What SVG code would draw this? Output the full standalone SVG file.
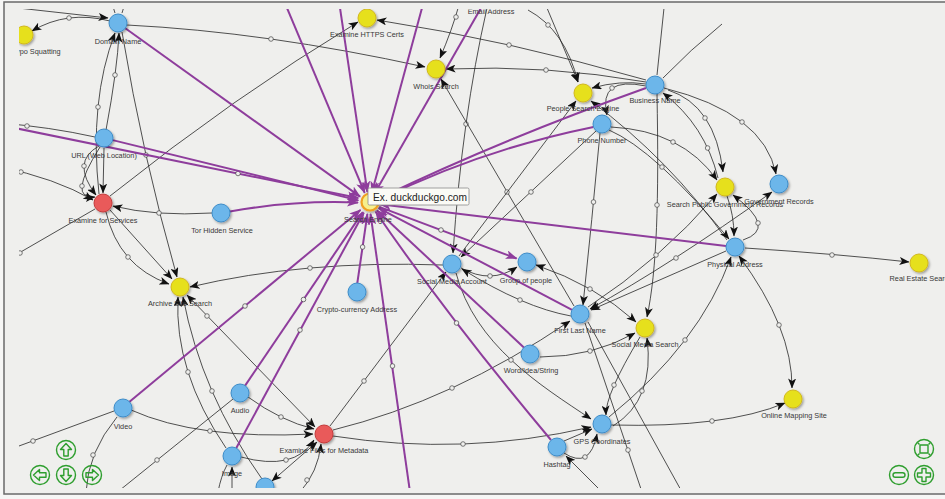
<svg xmlns="http://www.w3.org/2000/svg" xmlns:xlink="http://www.w3.org/1999/xlink" width="945" height="499" viewBox="0 0 945 499">
<defs>
<style>
.e{fill:none;stroke:#262626;stroke-width:0.8}
.p{fill:none;stroke:#8e3d9c;stroke-width:2}
.m{fill:#efefed;stroke:#444;stroke-width:0.7}
.nb{fill:#6cb6ea;stroke:#3d8cc8;stroke-width:1}
.ny{fill:#e6e01e;stroke:#d2b81c;stroke-width:1}
.nr{fill:#e95a5a;stroke:#c43c3c;stroke-width:1}
.l{font-family:"Liberation Sans",Arial,sans-serif;font-size:7.3px;fill:#383838;text-anchor:middle}
.g{fill:none;stroke:#2e9e2e;stroke-width:1.4;stroke-linejoin:round}
</style>
<marker id="ab" markerUnits="userSpaceOnUse" markerWidth="10" markerHeight="8" refX="9.5" refY="4" orient="auto-start-reverse"><path d="M0,0 L10,4 L0,8 L2.5,4 Z" fill="#111"/></marker>
<marker id="ap" markerUnits="userSpaceOnUse" markerWidth="12" markerHeight="9" refX="11" refY="4.5" orient="auto"><path d="M0,0 L12,4.5 L0,9 L3,4.5 Z" fill="#8e3d9c"/></marker>
<filter id="sh" x="-50%" y="-50%" width="200%" height="200%"><feDropShadow dx="1.3" dy="1.5" stdDeviation="0.9" flood-color="#000" flood-opacity="0.35"/></filter>
<clipPath id="cv"><rect x="19" y="9" width="930" height="479"/></clipPath>
<clipPath id="ct"><rect x="19" y="9.5" width="930" height="20"/></clipPath>
<path id="arr" d="M0,-6.5 L5.5,-0.5 L2.2,-0.5 L2.2,6 L-2.2,6 L-2.2,-0.5 L-5.5,-0.5 Z"/>
</defs>
<rect x="0" y="0" width="945" height="499" fill="#f6f6f5"/>
<rect x="4" y="2" width="960" height="492" fill="#efefed" stroke="#6a6a6a" stroke-width="1.5"/>
<g clip-path="url(#cv)">
<g id="connectors">
<path class="e" d="M0,6 L108,18" marker-end="url(#ab)"/>
<path class="e" d="M111,0 L115,13"/>
<path class="e" d="M126,0 L122,13"/>
<path class="e" d="M110,21 Q67,10 32,31" marker-end="url(#ab)"/><circle class="m" cx="69" cy="18" r="2.3"/>
<path class="e" d="M127,25 Q266,32 425,67" marker-end="url(#ab)"/><circle class="m" cx="271" cy="39" r="2.3"/>
<path class="e" d="M99,194 Q89,100.5 115,33" marker-end="url(#ab)"/><circle class="m" cx="98" cy="107" r="2.3"/>
<path class="e" d="M106,130 Q117.5,68.5 119,33" marker-end="url(#ab)"/><circle class="m" cx="115" cy="75" r="2.3"/>
<path class="e" d="M122,32 Q142.5,155.5 177,277" marker-end="url(#ab)"/><circle class="m" cx="146" cy="155" r="2.3"/>
<path class="e" d="M0,123 Q50,127 95,137"/><circle class="m" cx="27" cy="126" r="2.3"/>
<path class="e" d="M99,146 Q70.5,161.5 96,195" marker-end="url(#ab)"/><circle class="m" cx="84" cy="166" r="2.3"/>
<path class="e" d="M100,147 Q66.5,200 95,197" marker-end="url(#ab)"/><circle class="m" cx="82" cy="186" r="2.3"/>
<path class="e" d="M104,148 L103,193" marker-end="url(#ab)"/>
<path class="e" d="M0,167 Q55,178 93,200" marker-end="url(#ab)"/><circle class="m" cx="21" cy="172" r="2.3"/>
<path class="e" d="M0,264 L95,209"/><circle class="m" cx="20" cy="253" r="2.3"/>
<path class="e" d="M212,213 Q155.5,216.5 113,206" marker-end="url(#ab)"/><circle class="m" cx="159" cy="213" r="2.3"/>
<path class="e" d="M106,212 Q118.5,266 169,284" marker-end="url(#ab)"/><circle class="m" cx="128" cy="257" r="2.3"/>
<path class="e" d="M110,210 L172,279" marker-end="url(#ab)"/>
<path class="e" d="M110,196 Q234,97 358,22" marker-end="url(#ab)"/>
<path class="e" d="M443,265 Q303.5,260 190,287" marker-end="url(#ab)"/><circle class="m" cx="310" cy="268" r="2.3"/>
<path class="e" d="M226,448 Q174,371.5 178,297" marker-end="url(#ab)"/><circle class="m" cx="188" cy="372" r="2.3"/>
<path class="e" d="M262,479 Q201.5,394 183,297" marker-end="url(#ab)"/><circle class="m" cx="212" cy="391" r="2.3"/>
<path class="e" d="M187,295 L315,427" marker-start="url(#ab)" marker-end="url(#ab)"/><circle class="m" cx="207" cy="316" r="2.3"/>
<path class="e" d="M131,410 Q198,440 313,434" marker-end="url(#ab)"/><circle class="m" cx="210" cy="431" r="2.3"/>
<path class="e" d="M0,453 L114,411"/><circle class="m" cx="33" cy="441" r="2.3"/>
<path class="e" d="M117,417 Q88,452 86,492"/><circle class="m" cx="93" cy="455" r="2.3"/>
<path class="e" d="M233,399 L120,490"/><circle class="m" cx="157" cy="460" r="2.3"/>
<path class="e" d="M248,397 Q281,421 314,429" marker-end="url(#ab)"/><circle class="m" cx="281" cy="417" r="2.3"/>
<path class="e" d="M241,457 Q294.5,471.5 314,440" marker-end="url(#ab)"/><circle class="m" cx="286" cy="460" r="2.3"/>
<path class="e" d="M317,442 L272,481" marker-start="url(#ab)" marker-end="url(#ab)"/>
<path class="e" d="M300,492 Q318,472 321,444" marker-end="url(#ab)"/><circle class="m" cx="307" cy="480" r="2.3"/>
<path class="e" d="M232,492 L232,467" marker-end="url(#ab)"/>
<path class="e" d="M218,492 Q221,476 227,465"/>
<path class="e" d="M330,426 L446,272" marker-end="url(#ab)"/><circle class="m" cx="364" cy="381" r="2.3"/>
<path class="e" d="M333,430 Q452.5,400.5 570,321" marker-end="url(#ab)"/><circle class="m" cx="452" cy="388" r="2.3"/>
<path class="e" d="M333,436 Q464,456.5 591,427" marker-end="url(#ab)"/><circle class="m" cx="463" cy="444" r="2.3"/>
<path class="e" d="M459,5 Q452,30 440,58" marker-end="url(#ab)"/><circle class="m" cx="456" cy="17" r="2.3"/>
<path class="e" d="M487,8 Q462,117.5 453,253" marker-end="url(#ab)"/><circle class="m" cx="466" cy="124" r="2.3"/>
<path class="e" d="M528,10 Q565,30 578,82" marker-end="url(#ab)"/><circle class="m" cx="548" cy="25" r="2.3"/>
<path class="e" d="M547,8 L578,82" marker-end="url(#ab)"/>
<path class="e" d="M646,80 Q506.5,40 377,20" marker-end="url(#ab)"/><circle class="m" cx="509" cy="45" r="2.3"/>
<path class="e" d="M646,82 Q546,64.5 446,69" marker-end="url(#ab)"/><circle class="m" cx="546" cy="70" r="2.3"/>
<path class="e" d="M664,8 L657,75"/>
<path class="e" d="M722,24 Q690,50 663,78"/>
<path class="e" d="M646,84 Q620,80 592,88" marker-end="url(#ab)"/>
<path class="e" d="M646,86 Q598,76 607,115" marker-end="url(#ab)"/><circle class="m" cx="612" cy="88" r="2.3"/>
<path class="e" d="M574,306 L441,79" marker-end="url(#ab)"/><circle class="m" cx="507" cy="192" r="2.3"/>
<path class="e" d="M459,256 L576,101" marker-end="url(#ab)"/>
<path class="e" d="M596,131 L461,257" marker-end="url(#ab)"/><circle class="m" cx="531" cy="192" r="2.3"/>
<path class="e" d="M727,240 Q670,160 591,101" marker-end="url(#ab)"/>
<path class="e" d="M600,133 Q592,220 583,305" marker-end="url(#ab)"/><circle class="m" cx="593.5" cy="202" r="2.3"/>
<path class="e" d="M611,127 Q682,130.5 717,180" marker-end="url(#ab)"/><circle class="m" cx="673" cy="142" r="2.3"/>
<path class="e" d="M609,130 Q655,150 729,239" marker-end="url(#ab)"/><circle class="m" cx="662" cy="167" r="2.3"/>
<path class="e" d="M668,90 Q715,105 723,172" marker-end="url(#ab)"/><circle class="m" cx="705" cy="118" r="2.3"/>
<path class="e" d="M718,178 Q705,125 663,93" marker-end="url(#ab)"/><circle class="m" cx="707.6" cy="148" r="2.3"/>
<path class="e" d="M664,88 Q764,113 776,174" marker-end="url(#ab)"/><circle class="m" cx="742" cy="122" r="2.3"/>
<path class="e" d="M657,94 C659,200 657,270 647,317" marker-end="url(#ab)"/><circle class="m" cx="657" cy="205" r="2.3"/>
<path class="e" d="M727,196 Q734,215 734,236" marker-end="url(#ab)"/>
<path class="e" d="M743,240 Q778,228.5 733,195" marker-end="url(#ab)"/><circle class="m" cx="758" cy="223" r="2.3"/>
<path class="e" d="M588,307 Q660,260 717,194" marker-end="url(#ab)"/><circle class="m" cx="656" cy="255" r="2.3"/>
<path class="e" d="M590,309 Q670,265 772,192" marker-start="url(#ab)" marker-end="url(#ab)"/><circle class="m" cx="676" cy="258" r="2.3"/>
<path class="e" d="M726,251 L591,310" marker-end="url(#ab)"/>
<path class="e" d="M745,248 Q838,254 909,262" marker-end="url(#ab)"/><circle class="m" cx="832" cy="255" r="2.3"/>
<path class="e" d="M739,256 Q792.5,328 792,388" marker-start="url(#ab)" marker-end="url(#ab)"/><circle class="m" cx="779" cy="325" r="2.3"/>
<path class="e" d="M609,417 Q700,343 731,257" marker-end="url(#ab)"/><circle class="m" cx="685" cy="340" r="2.3"/>
<path class="e" d="M536,265 Q595,285 636,322" marker-start="url(#ab)" marker-end="url(#ab)"/><circle class="m" cx="590" cy="289" r="2.3"/>
<path class="e" d="M461,268 Q491,284.5 517,267" marker-end="url(#ab)"/><circle class="m" cx="490" cy="276" r="2.3"/>
<path class="e" d="M571,316 Q523.5,307.5 462,269" marker-end="url(#ab)"/><circle class="m" cx="520" cy="300" r="2.3"/>
<path class="e" d="M540,357 Q592.5,357 635,333" marker-end="url(#ab)"/><circle class="m" cx="590" cy="351" r="2.3"/>
<path class="e" d="M456,273 C475,345 540,385 591,419" marker-end="url(#ab)"/><circle class="m" cx="511" cy="360" r="2.3"/>
<path class="e" d="M611,425 Q726,428 785,403" marker-end="url(#ab)"/><circle class="m" cx="712" cy="421" r="2.3"/>
<path class="e" d="M564,441 L592,429" marker-end="url(#ab)"/>
<path class="e" d="M564,453 Q590,470 597,434" marker-end="url(#ab)"/><circle class="m" cx="585" cy="457" r="2.3"/>
<path class="e" d="M602,492 L566,456" marker-end="url(#ab)"/>
<path class="e" d="M640,337 Q605,395 606,415" marker-end="url(#ab)"/><circle class="m" cx="614" cy="385" r="2.3"/>
<path class="e" d="M613,426 Q655,400 647,338" marker-end="url(#ab)"/><circle class="m" cx="642" cy="391" r="2.3"/>
<path class="e" d="M585,323 L642,492"/><circle class="m" cx="628" cy="450" r="2.3"/>
<path class="e" d="M588,322 L682,492"/>
<path class="p" d="M287,8 L364.7,192.9" marker-end="url(#ap)"/>
<path class="p" d="M340,8 L367.4,192.1" marker-end="url(#ap)"/>
<path class="p" d="M422,8 L371.9,192.4" marker-end="url(#ap)"/>
<path class="p" d="M481,8 L374.5,193.5" marker-end="url(#ap)"/>
<path class="p" d="M125.3,28.2 L360.1,196.6" marker-end="url(#ap)"/>
<path class="p" d="M0,125 L358.3,198" marker-end="url(#ap)"/><circle class="m" cx="238" cy="173.5" r="2.3"/>
<path class="p" d="M112.7,140.1 L358.3,200.4" marker-end="url(#ap)"/>
<path class="p" d="M229.9,211.4 Q295,200 358,202.6" marker-end="url(#ap)"/>
<path class="p" d="M357.3,283.1 L367.4,213.9" marker-end="url(#ap)"/><circle class="m" cx="362.6" cy="247" r="2.3"/>
<path class="p" d="M128.9,402.2 L360.5,210" marker-end="url(#ap)"/><circle class="m" cx="245" cy="306" r="2.3"/>
<path class="p" d="M245.1,385.6 L362.8,212.1" marker-end="url(#ap)"/><circle class="m" cx="303.5" cy="299.5" r="2.3"/>
<path class="p" d="M236.3,448.1 L363.8,212.7" marker-end="url(#ap)"/><circle class="m" cx="300" cy="330" r="2.3"/>
<path class="p" d="M410,492 L370.5,213.9" marker-end="url(#ap)"/><circle class="m" cx="392.5" cy="366" r="2.3"/>
<path class="p" d="M551,440 Q450,320 375.7,211.7" marker-end="url(#ap)"/><circle class="m" cx="456.5" cy="323" r="2.3"/>
<path class="p" d="M524.4,347.9 L377,210.5" marker-end="url(#ap)"/>
<path class="p" d="M572,309.8 L378.7,208.1" marker-end="url(#ap)"/>
<path class="p" d="M379.3,206.9 L516.6,258.5" marker-end="url(#ap)"/><circle class="m" cx="441" cy="230" r="2.3"/>
<path class="p" d="M726,246 L380,204.3" marker-end="url(#ap)"/>
<path class="p" d="M593.5,126.9 Q480,150 379,200" marker-end="url(#ap)"/>
<path class="p" d="M646,88 Q500,140 380,198" marker-end="url(#ap)"/>
</g>
<g id="nodes">
<g id="typo-squatting"><circle class="ny" cx="24" cy="35" r="9" filter="url(#sh)"/><text class="l" x="12" y="54" style="text-anchor:start">Typo Squatting</text></g>
<g id="domain-name"><circle class="nb" cx="118" cy="23" r="9" filter="url(#sh)"/><text class="l" x="118" y="44">Domain Name</text></g>
<g id="url"><circle class="nb" cx="104" cy="138" r="9" filter="url(#sh)"/><text class="l" x="104" y="158">URL (Web Location)</text></g>
<g id="examine-services"><circle class="nr" cx="103" cy="203" r="9" filter="url(#sh)"/><text class="l" x="103" y="223">Examine for Services</text></g>
<g id="tor-hidden"><circle class="nb" cx="221" cy="213" r="9" filter="url(#sh)"/><text class="l" x="222" y="233">Tor Hidden Service</text></g>
<g id="archive-search"><circle class="ny" cx="180" cy="287" r="9" filter="url(#sh)"/><text class="l" x="180" y="306">Archive Site Search</text></g>
<g id="https-certs"><circle class="ny" cx="367" cy="18" r="9" filter="url(#sh)"/><text class="l" x="367" y="37">Examine HTTPS Certs</text></g>
<g id="email-address"><text class="l" x="491" y="14" clip-path="url(#ct)">Email Address</text></g>
<g id="whois-search"><circle class="ny" cx="436" cy="69" r="9" filter="url(#sh)"/><text class="l" x="436" y="89">Whois Search</text></g>
<g id="people-search"><circle class="ny" cx="583" cy="93" r="9" filter="url(#sh)"/><text class="l" x="583" y="111">People Search Engine</text></g>
<g id="business-name"><circle class="nb" cx="655" cy="85" r="9" filter="url(#sh)"/><text class="l" x="655" y="103">Business Name</text></g>
<g id="phone-number"><circle class="nb" cx="602" cy="124" r="9" filter="url(#sh)"/><text class="l" x="602" y="143">Phone Number</text></g>
<g id="search-public-gov"><circle class="ny" cx="725" cy="187" r="9" filter="url(#sh)"/><text class="l" x="725" y="207">Search Public Government Records</text></g>
<g id="government-records"><circle class="nb" cx="779" cy="184" r="9" filter="url(#sh)"/><text class="l" x="779" y="204">Government Records</text></g>
<g id="physical-address"><circle class="nb" cx="735" cy="247" r="9" filter="url(#sh)"/><text class="l" x="735" y="267">Physical Address</text></g>
<g id="real-estate"><circle class="ny" cx="919" cy="263" r="9" filter="url(#sh)"/><text class="l" x="921" y="281">Real Estate Search</text></g>
<g id="social-media-account"><circle class="nb" cx="452" cy="264" r="9" filter="url(#sh)"/><text class="l" x="452" y="284">Social Media Account</text></g>
<g id="group-of-people"><circle class="nb" cx="527" cy="262" r="9" filter="url(#sh)"/><text class="l" x="526" y="283">Group of people</text></g>
<g id="crypto-address"><circle class="nb" cx="357" cy="292" r="9" filter="url(#sh)"/><text class="l" x="357" y="312">Crypto-currency Address</text></g>
<g id="first-last-name"><circle class="nb" cx="580" cy="314" r="9" filter="url(#sh)"/><text class="l" x="580" y="333">First Last Name</text></g>
<g id="social-media-search"><circle class="ny" cx="645" cy="328" r="9" filter="url(#sh)"/><text class="l" x="645" y="347">Social Media Search</text></g>
<g id="word-idea"><circle class="nb" cx="530" cy="354" r="9" filter="url(#sh)"/><text class="l" x="531" y="373">Word/Idea/String</text></g>
<g id="online-mapping"><circle class="ny" cx="793" cy="399" r="9" filter="url(#sh)"/><text class="l" x="794" y="418">Online Mapping Site</text></g>
<g id="gps"><circle class="nb" cx="602" cy="424" r="9" filter="url(#sh)"/><text class="l" x="602" y="444">GPS Coordinates</text></g>
<g id="hashtag"><circle class="nb" cx="557" cy="447" r="9" filter="url(#sh)"/><text class="l" x="557" y="467">Hashtag</text></g>
<g id="examine-metadata"><circle class="nr" cx="324" cy="434" r="9" filter="url(#sh)"/><text class="l" x="324" y="453">Examine Files for Metadata</text></g>
<g id="audio"><circle class="nb" cx="240" cy="393" r="9" filter="url(#sh)"/><text class="l" x="240" y="413">Audio</text></g>
<g id="video"><circle class="nb" cx="123" cy="408" r="9" filter="url(#sh)"/><text class="l" x="123" y="429">Video</text></g>
<g id="image"><circle class="nb" cx="232" cy="456" r="9" filter="url(#sh)"/><text class="l" x="232" y="476">Image</text></g>
<g id="bottom-node"><circle class="nb" cx="265" cy="487" r="9" filter="url(#sh)"/></g>
<g id="search-engine"><circle cx="370" cy="202" r="8.5" fill="#f6f08c" stroke="#f0a020" stroke-width="2.2" filter="url(#sh)"/><text class="l" x="368" y="222">Search Engine</text></g>
</g>
</g>
<g id="tooltip">
<rect x="368" y="188" width="101" height="17" rx="1.5" fill="#fbfbf6" stroke="#8a8a8a" stroke-width="0.8"/>
<text x="373" y="200.5" style="font-family:'Liberation Sans',Arial,sans-serif;font-size:10.2px;fill:#222">Ex. duckduckgo.com</text>
</g>
<g id="nav-left">
<circle class="g" cx="66" cy="450" r="9.5"/><use href="#arr" class="g" transform="translate(66,450)"/>
<circle class="g" cx="40" cy="475" r="9.5"/><use href="#arr" class="g" transform="translate(40,475) rotate(-90)"/>
<circle class="g" cx="66" cy="475" r="9.5"/><use href="#arr" class="g" transform="translate(66,475) rotate(180)"/>
<circle class="g" cx="92" cy="475" r="9.5"/><use href="#arr" class="g" transform="translate(92,475) rotate(90)"/>
</g>
<g id="nav-right">
<circle class="g" cx="924" cy="449" r="9.5"/>
<rect class="g" x="920" y="445" width="8" height="8"/>
<path class="g" d="M917.5,442.5 L919.5,444.5 M930.5,442.5 L928.5,444.5 M917.5,455.5 L919.5,453.5 M930.5,455.5 L928.5,453.5" stroke-width="1"/>
<circle class="g" cx="899" cy="475" r="9.5"/>
<rect class="g" x="893" y="472.7" width="12" height="4.6" rx="2.3"/>
<circle class="g" cx="924" cy="475" r="9.5"/>
<path class="g" d="M922,468.5 H926 V473 H930.5 V477 H926 V481.5 H922 V477 H917.5 V473 H922 Z"/>
</g>
</svg>
